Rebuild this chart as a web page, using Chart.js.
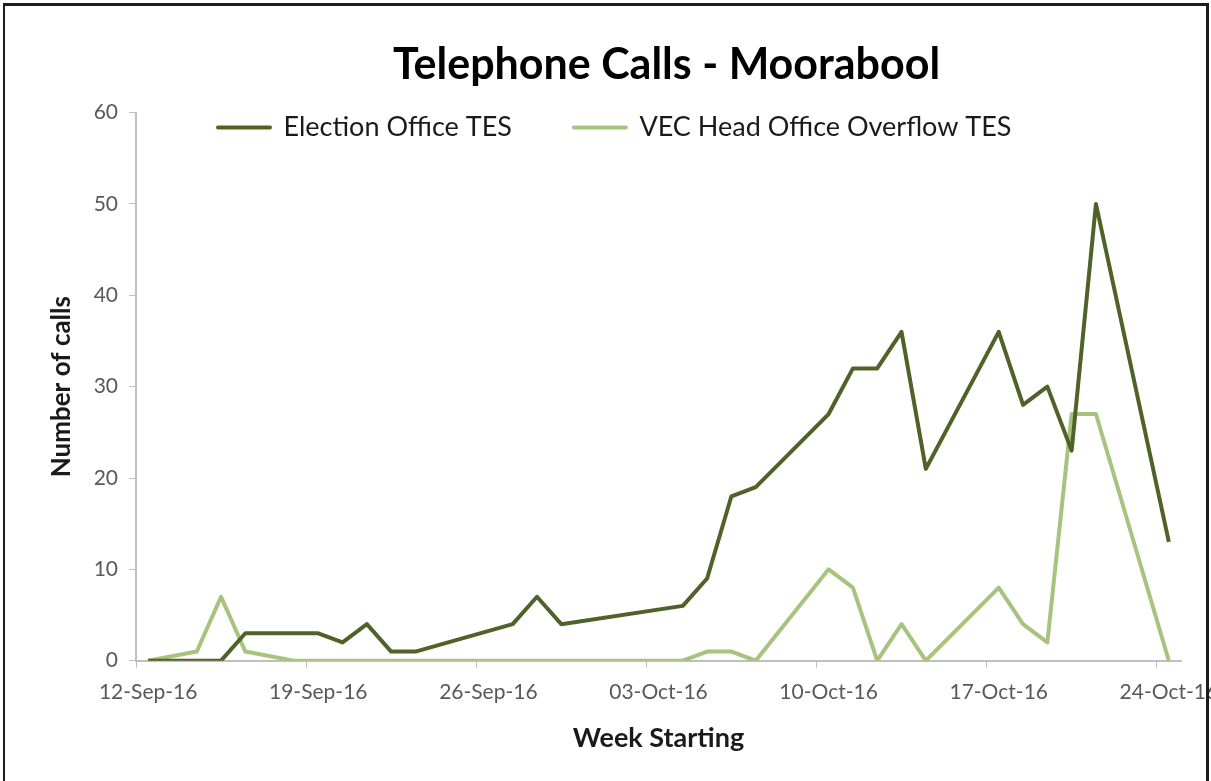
<!DOCTYPE html>
<html>
<head>
<meta charset="utf-8">
<script src="https://cdn.jsdelivr.net/npm/chart.js@4"></script>
<style>
  html, body { margin: 0; padding: 0; background: #fff; }
  #wrap { position: absolute; left: 0; top: 0; width: 1211px; height: 781px; }
  #frame {
    position: absolute; left: 3px; top: 3px; width: 1201px; height: 790px;
    border-top: 3px solid #1c1c1c; border-left: 2px solid #1c1c1c; border-right: 3px solid #1c1c1c;
    pointer-events: none;
  }
</style>
</head>
<body>
<div id="wrap">
  <canvas id="chart" width="1211" height="781"></canvas>
  <div id="frame"></div>
</div>
<script>
// day index 0 = 12-Sep-16, one category per day up to 24-Oct-16
const dayCount = 43;
const weekLabels = ['12-Sep-16', '19-Sep-16', '26-Sep-16', '03-Oct-16', '10-Oct-16', '17-Oct-16', '24-Oct-16'];

const electionDays  = [0, 3, 4, 7, 8, 9, 10, 11, 15, 16, 17, 22, 23, 24, 25, 28, 29, 30, 31, 32, 35, 36, 37, 38, 39, 42];
const electionCalls = [0, 0, 3, 3, 2, 4, 1, 1, 4, 7, 4, 6, 9, 18, 19, 27, 32, 32, 36, 21, 36, 28, 30, 23, 50, 13];

const overflowDays  = [0, 2, 3, 4, 6, 22, 23, 24, 25, 28, 29, 30, 31, 32, 35, 36, 37, 38, 39, 42];
const overflowCalls = [0, 1, 7, 1, 0, 0, 1, 1, 0, 10, 8, 0, 4, 0, 8, 4, 2, 27, 27, 0];

const days = Array.from({ length: dayCount }, (_, i) => i);
const toPoints = (xs, ys) => xs.map((d, i) => ({ x: d, y: ys[i] }));

const axisGrey = '#bfbfbf';
const textGrey = '#595959';
const font = 'Lato, "Open Sans", sans-serif';

// legend takes no room in the layout and is drawn over the top of the plot;
// title nudged right a little like the original
const legendShift = {
  id: 'legendShift',
  afterLayout(chart) {
    const lg = chart.legend;
    const pad = lg.options.labels.padding;
    lg.left = 218 - pad;
    lg.top = 127.5 - pad - lg.options.labels.font.size / 2;
    lg.bottom = lg.top + 120;
    lg.height = 120;
    lg.width = lg.right - lg.left;

    const t = chart.titleBlock;
    t.left += 8;
    t.right += 8;
  }
};

new Chart(document.getElementById('chart'), {
  type: 'line',
  data: {
    labels: days,
    datasets: [
      {
        label: 'Election Office TES',
        data: toPoints(electionDays, electionCalls),
        borderColor: '#4f6228',
        backgroundColor: '#4f6228',
        borderWidth: 4,
        pointRadius: 0,
        tension: 0,
        borderJoinStyle: 'round'
      },
      {
        label: 'VEC Head Office Overflow TES',
        data: toPoints(overflowDays, overflowCalls),
        borderColor: '#a6c47e',
        backgroundColor: '#a6c47e',
        borderWidth: 4,
        pointRadius: 0,
        tension: 0,
        borderJoinStyle: 'round'
      }
    ]
  },
  options: {
    responsive: false,
    animation: false,
    layout: { padding: { left: 0, right: 30, top: 0, bottom: 0 } },
    plugins: {
      title: {
        display: true,
        text: 'Telephone Calls - Moorabool',
        fullSize: false,
        color: '#000',
        font: { family: font, size: 43, weight: 'bold' },
        padding: { top: 39, bottom: 21 }
      },
      legend: {
        position: 'top',
        align: 'start',
        fullSize: false,
        maxHeight: 1,
        labels: {
          boxWidth: 52,
          boxHeight: 0,
          padding: 62,
          color: '#1a1a1a',
          font: { family: font, size: 27 }
        }
      },
      tooltip: { enabled: false }
    },
    scales: {
      x: {
        type: 'category',
        offset: true,
        grid: { offset: true, drawOnChartArea: false, tickLength: 7, tickColor: c => (c.index % 7 === 0 ? axisGrey : 'transparent') },
        border: { color: axisGrey, width: 2 },
        ticks: {
          autoSkip: false,
          maxRotation: 0,
          padding: 11.5,
          color: textGrey,
          font: { family: font, size: 21 },
          callback: (v, i) => (i % 7 === 0 ? weekLabels[i / 7] : '')
        },
        title: {
          display: true,
          text: 'Week Starting',
          color: '#1a1a1a',
          font: { family: font, size: 27, weight: 'bold' },
          padding: { top: 0, bottom: 27 }
        },
        afterFit(scale) {
          scale.height = 120.3;
          scale.paddingLeft = 0;
          scale.paddingRight = 0;
        }
      },
      y: {
        min: 0,
        max: 60,
        grid: { drawOnChartArea: false, tickLength: 7, tickColor: axisGrey },
        border: { color: axisGrey, width: 2 },
        ticks: {
          stepSize: 10,
          padding: 11,
          color: textGrey,
          font: { family: font, size: 21 }
        },
        title: {
          display: true,
          text: 'Number of calls',
          color: '#1a1a1a',
          font: { family: font, size: 26, weight: 'bold' },
          padding: { top: 46, bottom: 0 }
        },
        afterFit(scale) {
          scale.width = 136;
        }
      }
    }
  },
  plugins: [legendShift]
});
</script>
</body>
</html>
